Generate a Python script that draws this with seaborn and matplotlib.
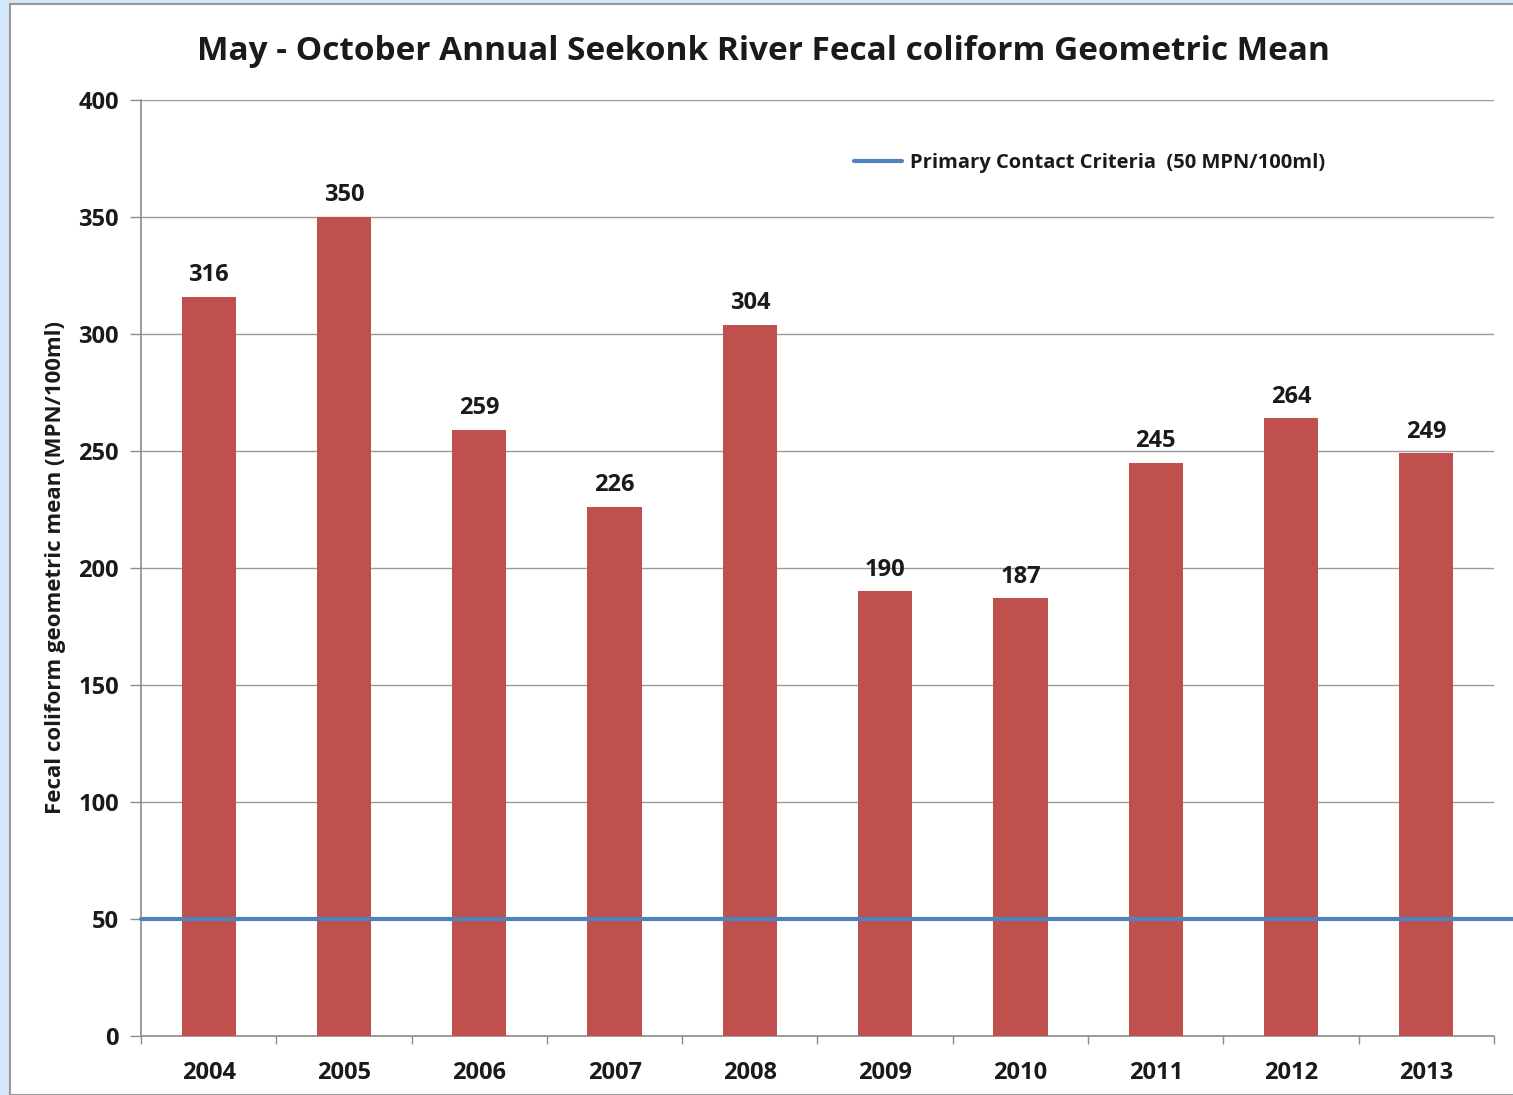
import matplotlib
matplotlib.use("Agg")
import matplotlib.pyplot as plt
from matplotlib.patches import Rectangle
from matplotlib.lines import Line2D
import seaborn as sns
import pandas as pd
import numpy as np

years = ["2004", "2005", "2006", "2007", "2008", "2009", "2010", "2011", "2012", "2013"]
geo_mean = [316, 350, 259, 226, 304, 190, 187, 245, 264, 249]
criteria = 50
y_ticks = [0, 50, 100, 150, 200, 250, 300, 350, 400]

sns.set_theme(style="white")
plt.rcParams["font.family"] = ["Open Sans", "DejaVu Sans"]
plt.rcParams["font.weight"] = "bold"

W, H = 1513, 1095
fig = plt.figure(figsize=(W / 100, H / 100), dpi=100)
fig.patch.set_facecolor("#d4e7f8")

# white chart panel with a thin grey frame, kept behind the axes
panel = Rectangle((10 / W, 0), 1.2, 1 - 4 / H, transform=fig.transFigure,
                  facecolor="white", edgecolor="#9a9a9a", lw=1.5, zorder=-10)
fig.add_artist(panel)

ax = fig.add_axes([141 / W, 1 - 1036 / H, (1494 - 141) / W, (1036 - 100) / H])
ax.set_zorder(1)
ax.set_facecolor("white")
ax.patch.set_alpha(0)

df = pd.DataFrame({"year": years, "value": geo_mean})
sns.barplot(data=df, x="year", y="value", color="#c0504d", width=0.4,
            saturation=1, ax=ax, zorder=3, linewidth=0)

for c in ax.containers:
    ax.bar_label(c, labels=[str(v) for v in geo_mean], padding=7,
                 fontsize=17, fontweight="bold", color="#1a1a1a")

ax.set_xlim(-0.5, len(years) - 0.5)
ax.set_ylim(0, 400)
ax.set_yticks(y_ticks)
ax.set_yticklabels([str(t) for t in y_ticks], fontsize=17, fontweight="bold", color="#1a1a1a")
ax.set_xticks(range(len(years)))
ax.set_xticklabels(years, fontsize=17, fontweight="bold", color="#1a1a1a")
ax.set_xticks(np.arange(-0.5, len(years)), minor=True)
ax.tick_params(axis="x", which="major", length=0, pad=18)
ax.tick_params(axis="x", which="minor", length=6, width=1, color="#8c8c8c", direction="out", bottom=True)
ax.tick_params(axis="y", which="major", length=8, width=1, color="#8c8c8c", direction="out", left=True, pad=8)

ax.grid(axis="y", color="#9a9a9a", lw=1, zorder=0)
ax.set_axisbelow(True)
for side in ["top", "right"]:
    ax.spines[side].set_visible(False)
for side in ["left", "bottom"]:
    ax.spines[side].set_color("#8c8c8c")
    ax.spines[side].set_linewidth(1.2)

ax.set_xlabel("")
ax.set_ylabel("Fecal coliform geometric mean (MPN/100ml)", fontsize=16, fontweight="bold",
              color="#1a1a1a", labelpad=9)

# criteria line runs past the plot edge to the panel border
ax.axhline(criteria, xmin=0, xmax=(W - 141) / (1494 - 141), color="#4f81bd", lw=3,
           clip_on=False, zorder=4)

handle = Line2D([], [], color="#4f81bd", lw=3)
leg = ax.legend([handle], ["Primary Contact Criteria  (50 MPN/100ml)"],
                loc="upper left", bbox_to_anchor=((846 - 141) / (1494 - 141), 1 - (145 - 100) / 936),
                frameon=False, fontsize=14.5, handlelength=2.4, handletextpad=0.4,
                borderaxespad=0)
for t in leg.get_texts():
    t.set_fontweight("bold")
    t.set_color("#1a1a1a")

fig.text((198 + 1328) / 2 / W, 1 - 51 / H,
         "May - October Annual Seekonk River Fecal coliform Geometric Mean",
         ha="center", va="center", fontsize=24, fontweight="bold", color="#1a1a1a")

fig.savefig("out.png", dpi=100)
